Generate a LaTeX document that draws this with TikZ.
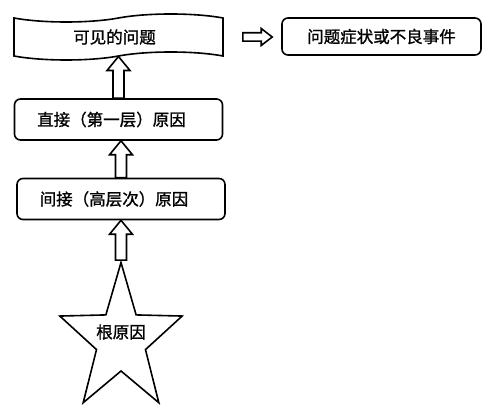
\documentclass[tikz,border=0pt]{standalone}
\usepackage{fontspec}
\newfontfamily\cjk[FakeBold=1.2]{Noto Sans CJK SC}
\usetikzlibrary{shapes.geometric, shapes.symbols, calc, positioning}
\tikzstyle{cjktext} = [font=\cjk\fontsize{16.5}{20}\selectfont]
\tikzstyle{block} = [rectangle, draw, rounded corners=6pt, line width=1.6pt, text centered, minimum height=41pt, minimum width=208pt, cjktext]
\tikzstyle{banner} = [tape, draw, line width=1.6pt, minimum height=46pt, minimum width=209pt, tape bend height=8pt]
\tikzstyle{rootstar} = [star, star points=5, star point ratio=2.5, draw, line width=1.6pt, minimum size=155pt, inner sep=0pt]
\tikzstyle{hollow} = [draw, fill=white, line width=1.6pt, line join=miter]

% hollow block arrows: shaft starts at #1, tip ends at #2
\newcommand{\uparrowbox}[2]{%
  \draw [hollow] let \p1=(#1), \p2=(#2) in
    (\x1-5.5pt,\y1) -- (\x1-5.5pt,\y2-14pt) -- (\x1-11.5pt,\y2-14pt) -- (\x1,\y2)
    -- (\x1+11.5pt,\y2-14pt) -- (\x1+5.5pt,\y2-14pt) -- (\x1+5.5pt,\y1) -- cycle;}
\newcommand{\rightarrowbox}[2]{%
  \draw [hollow] let \p1=(#1), \p2=(#2) in
    (\x1,\y1-4.2pt) -- (\x2-11pt,\y1-4.2pt) -- (\x2-11pt,\y1-8.5pt) -- (\x2,\y1)
    -- (\x2-11pt,\y1+8.5pt) -- (\x2-11pt,\y1+4.2pt) -- (\x1,\y1+4.2pt) -- cycle;}

\begin{document}
\begin{tikzpicture}[x=1pt, y=1pt, node distance=80pt]
    \useasboundingbox (0,0) rectangle (492,-411);

    % Causes
    \node (visible) [banner, label={[cjktext, xshift=-4pt]center:可见的问题}] at (118.5,-37) {};
    \node (direct) [block, below of=visible, yshift=-2.5pt] {直接（第一层）原因\hspace*{14pt}};
    \node (indirect) [block, below of=direct, xshift=2.5pt, yshift=0.5pt] {间接（高层次）原因\hspace*{14pt}};
    \node (root) [rootstar, below of=indirect, yshift=-61pt, xscale=0.83, transform shape] {};
    \node (rootlabel) [cjktext] at ([yshift=8pt]root.center) {根原因};

    % Outcome
    \node (symptom) [block, right of=visible, xshift=183pt, yshift=0.5pt, minimum width=199pt, minimum height=37pt] {问题症状或不良事件};

    % ==== Arrows
    \uparrowbox{direct.north}{visible.south}
    \uparrowbox{indirect.north}{direct.south}
    \uparrowbox{root.north}{indirect.south}
    \rightarrowbox{[xshift=19pt]visible.east}{[xshift=-9pt]symptom.west}

\end{tikzpicture}
\end{document}
